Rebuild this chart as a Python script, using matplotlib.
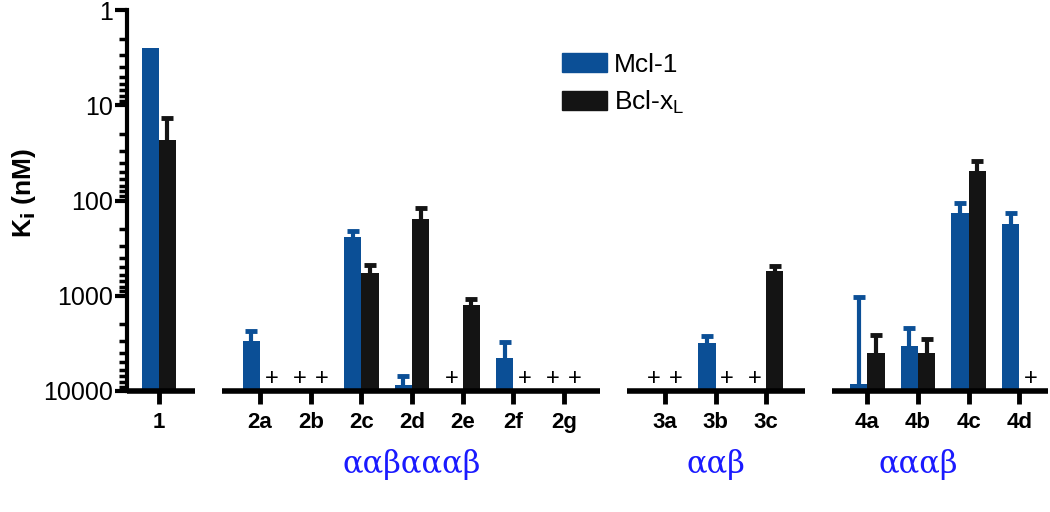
import numpy as np
import matplotlib
matplotlib.use("Agg")
import matplotlib.pyplot as plt
from matplotlib.patches import Patch

plt.rcParams['font.family'] = ['Liberation Sans', 'DejaVu Sans']

# compounds and tick positions (gaps between the families)
compounds = ["1", "2a", "2b", "2c", "2d", "2e", "2f", "2g", "3a", "3b", "3c", "4a", "4b", "4c", "4d"]
xpos = [0, 2, 3, 4, 5, 6, 7, 8, 10, 11, 12, 14, 15, 16, 17]

# Ki (nM), None = no binding detected (+)
mcl1 = [2.5, 2970, None, 240, 8700, None, 4470, None, None, 3100, None, 8500, 3370, 134, 177]
mcl1_err = [0, 640, 0, 30, 1750, 0, 1430, 0, 0, 470, 0, 7475, 1170, 27, 41]
bclxl = [23, None, None, 575, 155, 1240, None, None, None, None, 545, 4000, 3950, 49, None]
bclxl_err = [9.3, 0, 0, 95, 34, 170, 0, 0, 0, 0, 52, 1430, 1090, 10.4, 0]

families = ["ααβαααβ", "ααβ", "αααβ"]
family_x = [5, 11, 15]
segments = [(-0.63, 0.71), (1.25, 8.72), (9.25, 12.77), (13.3, 17.57)]

blue = "#0b4f96"
black = "#141414"
w = 0.34
base = 10000

fig = plt.figure(figsize=(10.5, 5.12), dpi=100)
ax = fig.add_axes([127 / 1050, 1 - 391 / 512, (1048 - 127) / 1050, (391 - 10) / 512])
ax.set_yscale("log")
ax.set_ylim(base, 1)
ax.set_xlim(-0.63, 17.57)

def draw(vals, errs, off, color):
    for x, v, e in zip(xpos, vals, errs):
        if v is None:
            ax.annotate("+", (x + off * 1.3, base), xytext=(0, 1), textcoords="offset points",
                        ha="center", va="bottom", fontsize=17, color="black", annotation_clip=False)
            continue
        ax.bar(x + off, base - v, bottom=v, width=w, color=color, zorder=2)
        if e > 0:
            ax.vlines(x + off, v - e, v, color=color, lw=3, zorder=2)
            ax.plot([x + off], [v - e], marker="_", ms=9, mew=3.5, color=color, zorder=2)

draw(mcl1, mcl1_err, -w / 2, blue)
draw(bclxl, bclxl_err, w / 2, black)

# broken baseline
for a, b in segments:
    ax.hlines(base, a, b, color="black", lw=4, clip_on=False, zorder=3)

for s in ["top", "right", "bottom"]:
    ax.spines[s].set_visible(False)
ax.spines["left"].set_linewidth(3)

ax.set_yticks([1, 10, 100, 1000, 10000])
ax.set_yticklabels(["1", "10", "100", "1000", "10000"], fontsize=18)
ax.tick_params(axis="y", which="major", length=9, width=3, pad=1)
ax.tick_params(axis="y", which="minor", length=6, width=2.5)
ax.yaxis.set_minor_formatter(matplotlib.ticker.NullFormatter())

ax.set_xticks(xpos)
ax.set_xticklabels(compounds, fontsize=16, fontweight="bold",
                   family=["Liberation Sans Narrow", "Liberation Sans"])
ax.tick_params(axis="x", length=9, width=3.5, pad=6)

ax.set_ylabel("K$_\\mathbf{i}$ (nM)", fontsize=19, fontweight="bold")
ax.yaxis.set_label_coords(-0.097, 0.52)

for t, x in zip(families, family_x):
    ax.text(x, -0.194, t, transform=ax.get_xaxis_transform(), ha="center", va="center",
            fontsize=22, color="#1a1aff", family=["DejaVu Serif", "Liberation Serif"])

ax.legend(handles=[Patch(color=blue, label="Mcl-1"), Patch(color=black, label="Bcl-x$_\\mathregular{L}$")],
          loc="upper left", bbox_to_anchor=(0.447, 0.95), frameon=False, fontsize=19,
          handlelength=1.7, handleheight=0.75, handletextpad=0.25, labelspacing=0.45)

fig.savefig("out.png", dpi=100)
